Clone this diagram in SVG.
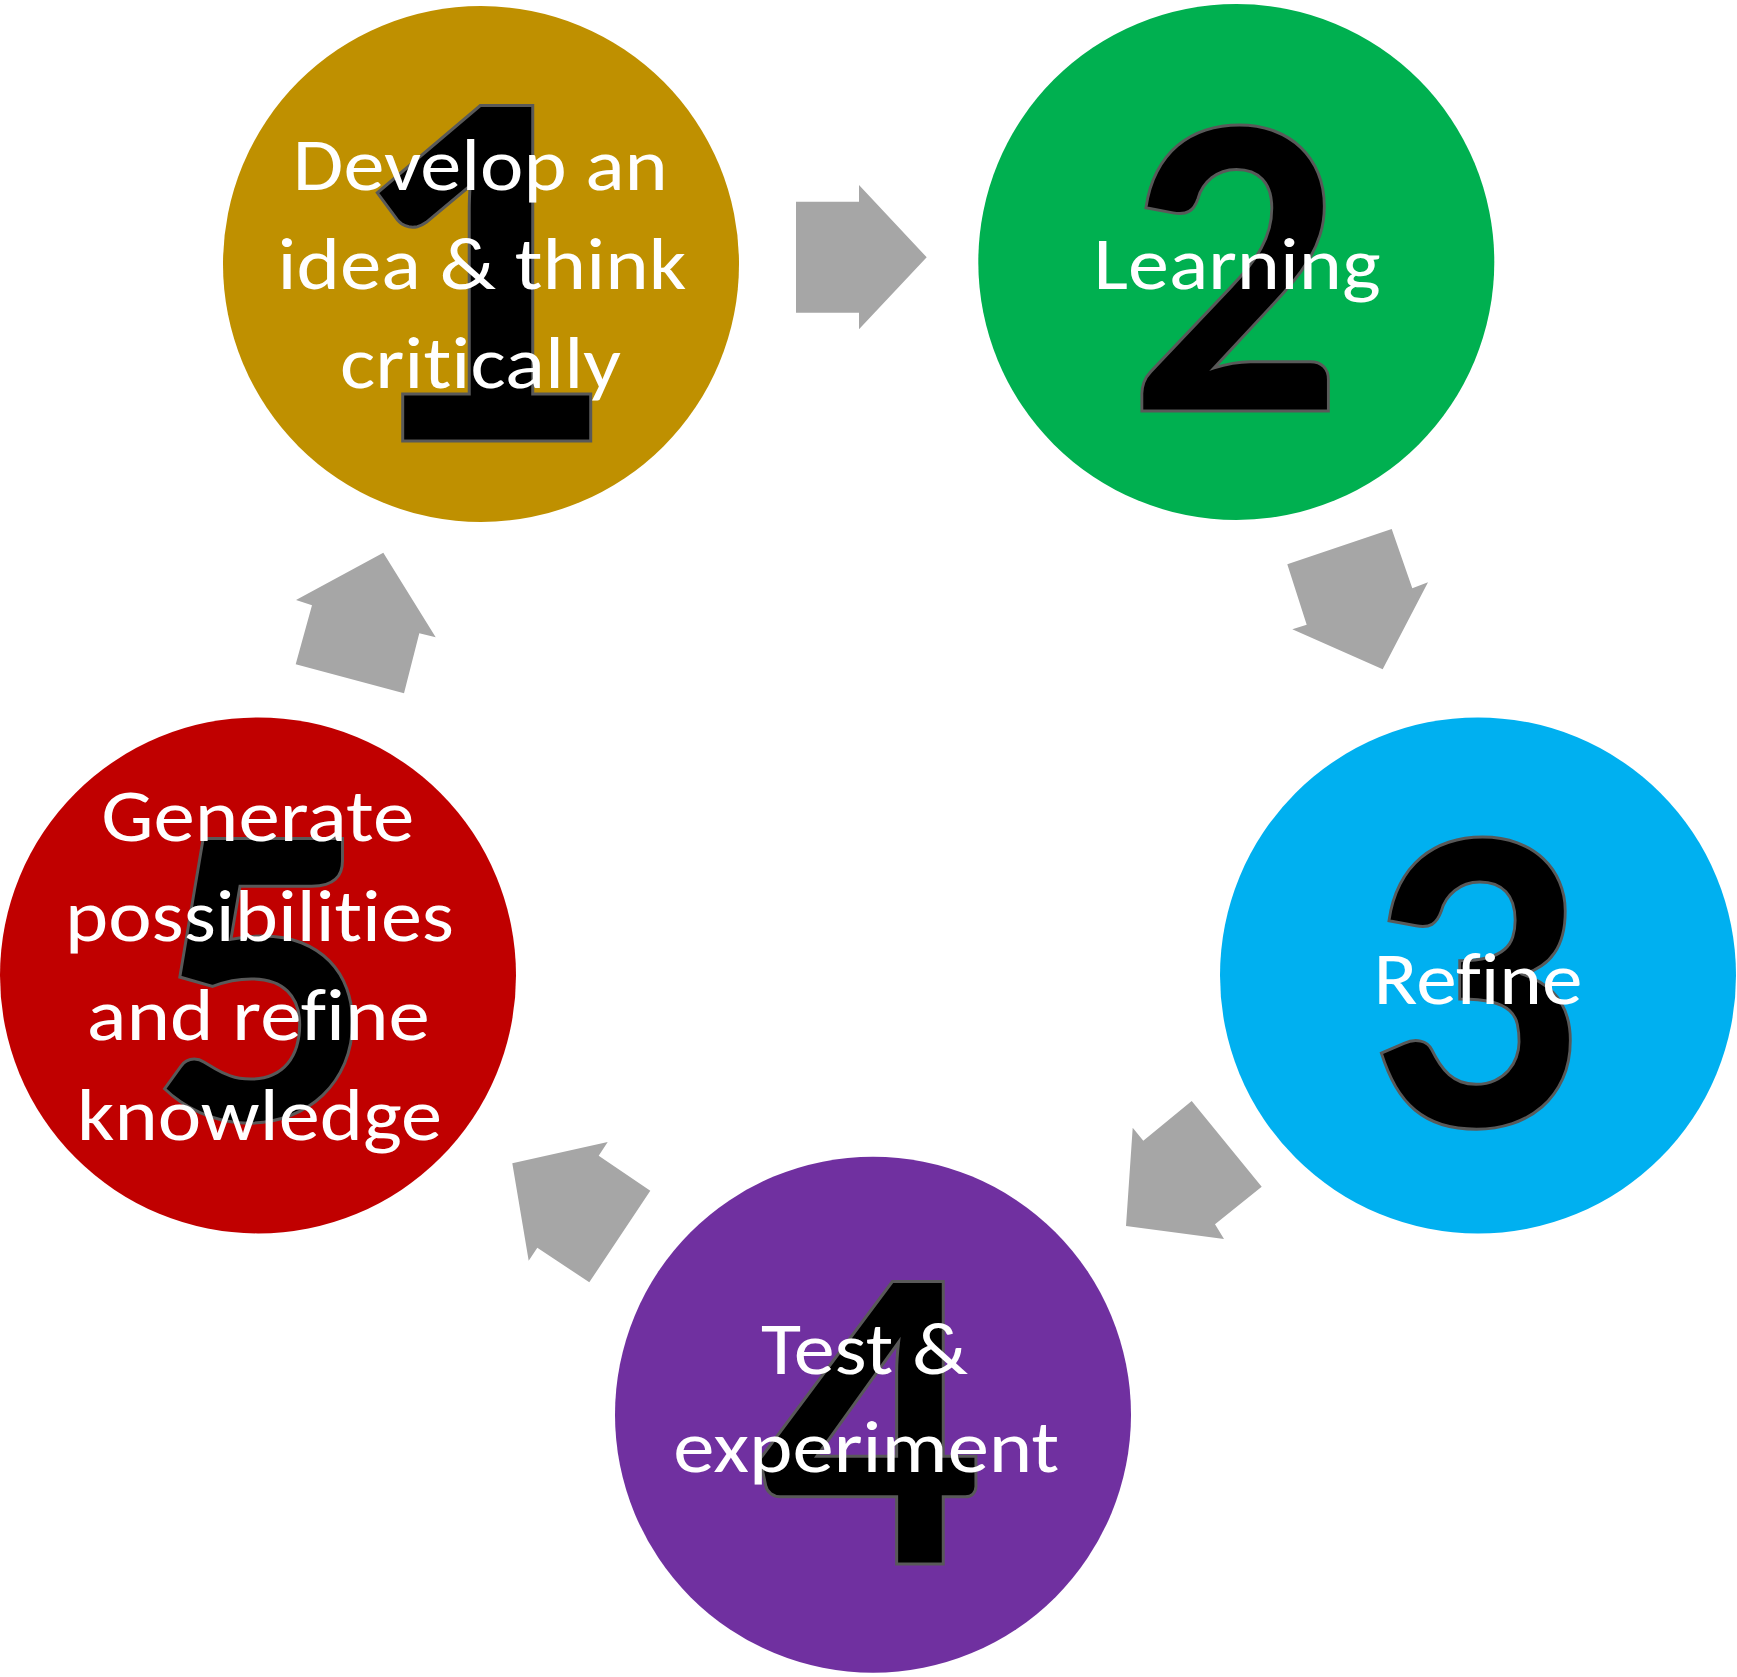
<svg xmlns="http://www.w3.org/2000/svg" width="1737" height="1677" viewBox="0 0 1737 1677">
<style>
.num{font-family:Lato,"DejaVu Sans",sans-serif;font-weight:900;fill:#000;stroke:#595959;stroke-width:3;text-anchor:middle}
.lbl{font-family:Carlito,Lato,"Open Sans",sans-serif;font-size:75px;fill:#fff;text-anchor:middle;font-variant-ligatures:none;font-feature-settings:"liga" 0,"clig" 0}
.arr{fill:#A6A6A6}
</style>
<rect width="1737" height="1677" fill="#fff"/>
<g id="connectors">
<polygon class="arr" points="796,201.7 859,201.7 859,185 926.7,257.3 859,329.3 859,312.7 796,312.7"/>
<polygon class="arr" points="1287.3,564.3 1391.7,529 1412.3,588.3 1428,582.3 1382.7,669.3 1292.3,629.3 1306.7,624.7"/>
<polygon class="arr" points="1191.7,1101 1261.7,1186.7 1215,1224.3 1224,1239 1126,1226 1132.7,1127.7 1143.3,1140.7"/>
<polygon class="arr" points="650.3,1190.7 589.3,1282.3 537.3,1247.7 528.7,1260.7 512.3,1163.3 607.7,1142 598.7,1155.7"/>
<polygon class="arr" points="383.3,552.7 435.7,637.3 419.3,633.3 404,693.3 295.7,664.3 312,605.3 296,600"/>
</g>
<g id="node1">
<circle cx="481" cy="264" r="258" fill="#BF9000"/>
<text class="num" x="484" y="441" font-size="462">1</text>
<text class="lbl" x="480.3" y="190.4" textLength="375" lengthAdjust="spacingAndGlyphs">Develop an</text>
<text class="lbl" x="481.9" y="289.4" textLength="409" lengthAdjust="spacingAndGlyphs">idea &amp; think</text>
<text class="lbl" x="480.5" y="388" textLength="281" lengthAdjust="spacingAndGlyphs">critically</text>
</g>
<g id="node2">
<circle cx="1236.3" cy="262" r="258" fill="#00B050"/>
<text class="num" x="1236.6" y="411" font-size="390" textLength="215" lengthAdjust="spacingAndGlyphs">2</text>
<text class="lbl" x="1237.1" y="289.2" textLength="287" lengthAdjust="spacingAndGlyphs">Learning</text>
</g>
<g id="node3">
<circle cx="1478" cy="975.4" r="258" fill="#00B0F0"/>
<text class="num" x="1478.5" y="1126" font-size="394" textLength="216" lengthAdjust="spacingAndGlyphs">3</text>
<text class="lbl" x="1478" y="1003.8" textLength="209" lengthAdjust="spacingAndGlyphs">Refine</text>
</g>
<g id="node4">
<circle cx="873" cy="1414.7" r="258" fill="#7030A0"/>
<text class="num" x="872.5" y="1564" font-size="389">4</text>
<text class="lbl" x="864.5" y="1374.2" textLength="207" lengthAdjust="spacingAndGlyphs">Test &amp;</text>
<text class="lbl" x="866.3" y="1472.2" textLength="386" lengthAdjust="spacingAndGlyphs">experiment</text>
</g>
<g id="node5">
<circle cx="258" cy="975.4" r="258" fill="#C00000"/>
<text class="num" x="261" y="1120" font-size="388" textLength="222" lengthAdjust="spacingAndGlyphs">5</text>
<text class="lbl" x="257.7" y="840.6" textLength="313" lengthAdjust="spacingAndGlyphs">Generate</text>
<text class="lbl" x="259.5" y="941.3" textLength="389" lengthAdjust="spacingAndGlyphs">possibilities</text>
<text class="lbl" x="258.3" y="1039.5" textLength="343" lengthAdjust="spacingAndGlyphs">and refine</text>
<text class="lbl" x="259.5" y="1140.3" textLength="365" lengthAdjust="spacingAndGlyphs">knowledge</text>
</g>
</svg>
